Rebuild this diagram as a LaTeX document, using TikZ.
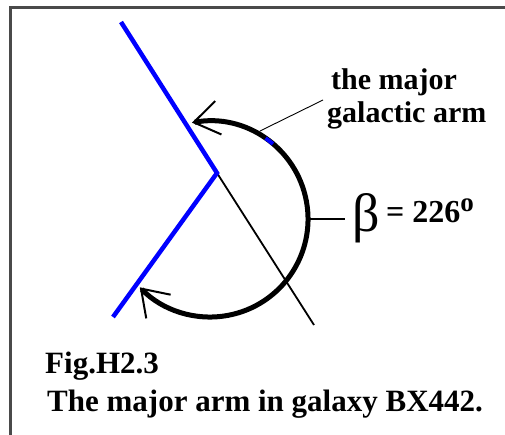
\documentclass[tikz,border=0pt]{standalone}
\usepackage{fontspec}
\setmainfont{Liberation Serif}
\usetikzlibrary{arrows.meta}
\definecolor{framegray}{HTML}{4A4A4A}
\definecolor{armblue}{RGB}{0,0,255}
\begin{document}
\begin{tikzpicture}[x=1pt,y=-1pt,
  frameline/.style={draw=framegray,line width=3pt},
  armline/.style={draw=armblue,line width=4.5pt},
  axisline/.style={draw=black,line width=1.8pt},
  bigarc/.style={draw=black,line width=5pt,
    {Straight Barb[length=25pt,width=34pt,line width=2pt]}-{Straight Barb[length=25pt,width=34pt,line width=2pt]}},
  leader/.style={draw=black,line width=0.9pt},
  betatick/.style={draw=black,line width=1.5pt},
  lbl/.style={inner sep=0pt,anchor=base west,font=\fontsize{30}{33}\selectfont\bfseries},
  captext/.style={inner sep=0pt,anchor=base west,font=\fontsize{31}{36}\selectfont\bfseries}]
\useasboundingbox (0,0) rectangle (505,435);
\fill[white] (0,0) rectangle (505,435);
% frame (top and left)
\draw[frameline] (10.5,435) -- (10.5,7.5) -- (505,7.5);
% coordinates
\coordinate (armtop) at (121,22);
\coordinate (vertex) at (217,173);
\coordinate (armbot) at (113,317);
\coordinate (axisend) at (314,325);
\coordinate (arcS) at (192,122.7);
\coordinate (arcR) at (309,219);
\coordinate (tickE) at (345,219);
\coordinate (leadA) at (260,131);
\coordinate (leadB) at (323,100);
% axis line
\path[axisline] (vertex) -- (axisend);
% arm
\path[armline] (armtop) -- (vertex) -- (armbot);
% arc with arrows
\path[bigarc] (arcS) arc[start angle=-100.6, end angle=135.8, radius=98];
% blue mark on arc
\draw[armblue,line width=4pt] (210,219) ++(-55.5:98) arc[start angle=-55.5, end angle=-50, radius=98];
% leader line
\path[leader] (leadA) -- (leadB);
% tick to beta
\path[betatick] (arcR) -- (tickE);
% labels
\node[lbl] (l1) at (331,90) {the major};
\node[lbl] (l2) at (327,123) {galactic arm};
\node[inner sep=0pt,anchor=north west,font=\fontsize{54}{54}\selectfont] (beta) at (352,193) {β};
\node[inner sep=0pt,anchor=base west,font=\fontsize{32}{36}\selectfont\bfseries] (val) at (386,223) {= 226\raisebox{11pt}{\fontsize{27}{27}\selectfont o}};
\node[captext] (fig) at (45,373) {Fig.H2.3};
\node[captext] (capline) at (47,411) {The major arm in galaxy BX442.};
\end{tikzpicture}
\end{document}
